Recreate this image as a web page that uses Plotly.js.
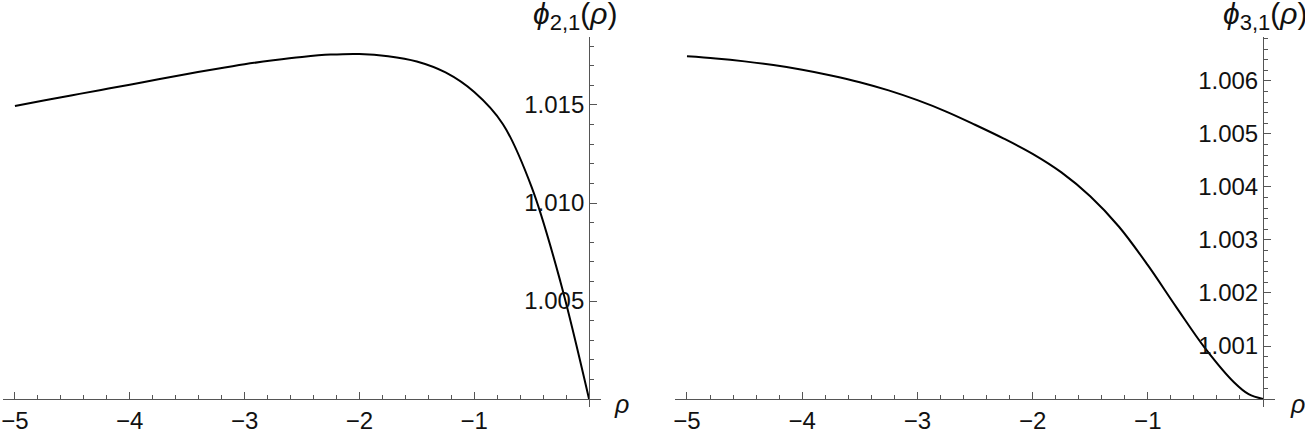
<!DOCTYPE html>
<html>
<head>
<meta charset="utf-8">
<script src="https://cdn.plot.ly/plotly-3.0.1.min.js"></script>
<style>
  html, body { margin: 0; padding: 0; background: #ffffff; }
  #graph { width: 1305px; height: 430px; }
</style>
</head>
<body>
<div id="graph"></div>
<script>
// values
var rho21 = [-5, -4.75, -4.5, -4.25, -4, -3.75, -3.5, -3.25, -3, -2.75, -2.5, -2.25, -2, -1.75, -1.5, -1.25, -1, -0.75, -0.5, -0.25, 0];
var phi21 = [1.01495, 1.01523, 1.0155, 1.01577, 1.01603, 1.01631, 1.01658, 1.01684, 1.01708, 1.01728, 1.01745, 1.01757, 1.0176, 1.01749, 1.01722, 1.01666, 1.01566, 1.01402, 1.01081, 1.006, 1.0];
var rho31 = [-5, -4.75, -4.5, -4.25, -4, -3.75, -3.5, -3.25, -3, -2.75, -2.5, -2.25, -2, -1.75, -1.5, -1.25, -1, -0.75, -0.5, -0.25, -0.125, 0];
var phi31 = [1.006465, 1.006425, 1.00637, 1.0063, 1.006213, 1.006105, 1.005978, 1.005823, 1.005638, 1.005423, 1.005175, 1.004913, 1.004625, 1.004275, 1.003825, 1.00325, 1.002525, 1.001725, 1.00095, 1.00031, 1.00009, 1.0];

var rhoTicks = [-5, -4, -3, -2, -1];
var rhoTickText = ['\u22125', '\u22124', '\u22123', '\u22122', '\u22121'];
var ticks21 = [1.005, 1.010, 1.015];
var tickText21 = ['1.005', '1.010', '1.015'];
var ticks31 = [1.001, 1.002, 1.003, 1.004, 1.005, 1.006];
var tickText31 = ['1.001', '1.002', '1.003', '1.004', '1.005', '1.006'];

var W = 1305, H = 430;
var fontFam = 'Liberation Sans, Arial, sans-serif';
var axisColor = '#555555';
var labelColor = '#111111';

var xRange = [-5.104, 0.104];
var yRange21 = [0.999592, 1.018469];
var yRange31 = [0.999849, 1.00683];
var yDomain = [1 - 407 / H, 1 - 37 / H];
var xDomain1 = [3 / W, 601 / W];
var xDomain2 = [675 / W, 1275 / W];

function frac(range, v) {
    return (v - range[0]) / (range[1] - range[0]);
}

function paperPos(domain, range, v) {
    return domain[0] + frac(range, v) * (domain[1] - domain[0]);
}

function xAxis(domain, yr) {
    return {
        domain: domain,
        range: xRange,
        anchor: 'free',
        position: paperPos(yDomain, yr, 1.0),
        showline: true, linecolor: axisColor, linewidth: 1.2,
        showgrid: false, zeroline: false,
        ticks: 'inside', ticklen: 7, tickwidth: 1, tickcolor: axisColor,
        tickmode: 'array', tickvals: rhoTicks, ticktext: rhoTickText,
        tickfont: { family: fontFam, size: 24, color: labelColor },
        minor: { tickmode: 'linear', tick0: 0, dtick: 0.2, ticks: 'inside', ticklen: 4, tickwidth: 1, tickcolor: axisColor, showgrid: false },
        fixedrange: true
    };
}

function yAxis(xd, yr, vals, text, minorStep) {
    return {
        domain: yDomain,
        range: yr,
        anchor: 'free',
        side: 'left',
        position: paperPos(xd, xRange, 0),
        showline: true, linecolor: axisColor, linewidth: 1.2,
        showgrid: false, zeroline: false,
        ticks: 'inside', ticklen: 7, tickwidth: 1, tickcolor: axisColor,
        tickmode: 'array', tickvals: vals, ticktext: text,
        tickfont: { family: fontFam, size: 24, color: labelColor },
        minor: { tickmode: 'linear', tick0: 1.0, dtick: minorStep, ticks: 'inside', ticklen: 4, tickwidth: 1, tickcolor: axisColor, showgrid: false },
        fixedrange: true
    };
}

function curve(xs, ys, xa, ya) {
    return {
        x: xs, y: ys, xaxis: xa, yaxis: ya,
        type: 'scatter', mode: 'lines',
        line: { color: '#000000', width: 2, shape: 'spline', smoothing: 1 },
        hoverinfo: 'skip'
    };
}

var titleFont = { family: fontFam, size: 30, color: labelColor };
var rhoFont = { family: fontFam, size: 25, color: labelColor };

function title(sub) {
    return '<i>\u03d5</i><sub><span style="font-size:22px">' + sub + '</span></sub>(<i>\u03c1</i>)';
}

var layout = {
    width: W, height: H,
    margin: { l: 0, r: 0, t: 0, b: 0 },
    paper_bgcolor: '#ffffff', plot_bgcolor: '#ffffff',
    showlegend: false,
    xaxis: xAxis(xDomain1, yRange21),
    yaxis: yAxis(xDomain1, yRange21, ticks21, tickText21, 0.001),
    xaxis2: xAxis(xDomain2, yRange31),
    yaxis2: yAxis(xDomain2, yRange31, ticks31, tickText31, 0.0002),
    annotations: [
        { xref: 'paper', yref: 'paper', x: 575 / W, y: 1 - 16 / H, xanchor: 'center', yanchor: 'middle',
          text: title('2,1'), showarrow: false, font: titleFont },
        { xref: 'paper', yref: 'paper', x: 1265 / W, y: 1 - 16 / H, xanchor: 'center', yanchor: 'middle',
          text: title('3,1'), showarrow: false, font: titleFont },
        { xref: 'paper', yref: 'paper', x: 621 / W, y: 1 - 404 / H, xanchor: 'center', yanchor: 'middle',
          text: '<i>\u03c1</i>', showarrow: false, font: rhoFont },
        { xref: 'paper', yref: 'paper', x: 1297 / W, y: 1 - 404 / H, xanchor: 'center', yanchor: 'middle',
          text: '<i>\u03c1</i>', showarrow: false, font: rhoFont }
    ]
};

Plotly.newPlot('graph', [curve(rho21, phi21, 'x', 'y'), curve(rho31, phi31, 'x2', 'y2')], layout, { staticPlot: true });
</script>
</body>
</html>
